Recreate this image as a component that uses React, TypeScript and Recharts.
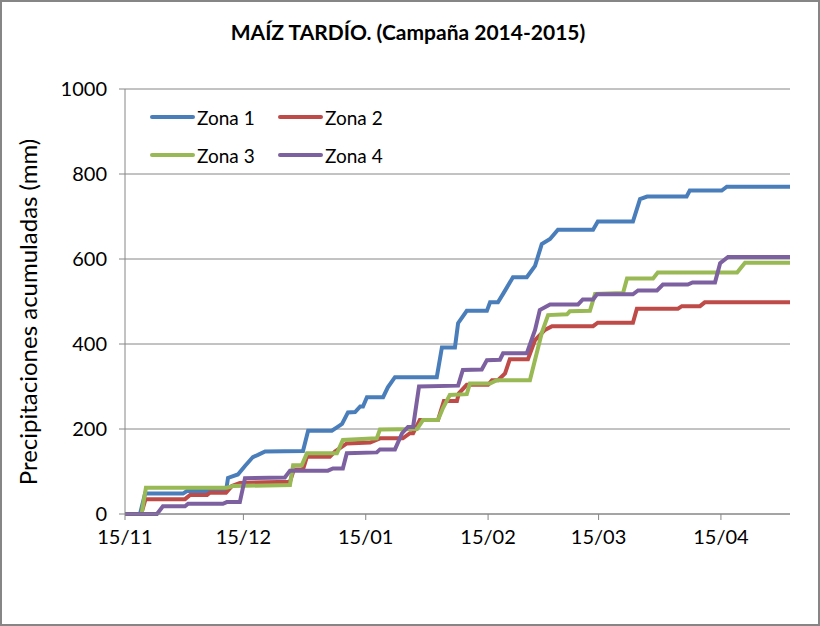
import React from 'react';
import { LineChart, Line, XAxis, YAxis, CartesianGrid, Legend, Label } from 'recharts';

// eje X: días contados desde el 15/11/2014
const tickDias = [0, 30, 61, 92, 120, 151];
const tickEtiquetas = ['15/11', '15/12', '15/01', '15/02', '15/03', '15/04'];
const yTicks = [0, 200, 400, 600, 800, 1000];

const dias1 = [0, 3.8, 5.1, 14.7, 15.7, 25.6, 26.1, 28.6, 30.4, 32.4, 33.7, 35.5, 45.1, 46.4, 52.4, 53.7, 55.0, 56.5, 58.3, 59.6, 60.3, 61.3, 65.4, 66.6, 68.4, 79.0, 80.3, 83.6, 84.4, 86.6, 91.7, 92.5, 94.5, 95.8, 98.3, 101.8, 103.9, 105.6, 107.7, 109.7, 118.6, 119.8, 128.7, 130.5, 132.3, 142.3, 143.1, 151.2, 152.5, 168.5];
const valores1 = [0, 0, 48, 48, 54, 54, 85, 93, 113, 134, 139, 147, 148, 196, 196, 204, 212, 239, 240, 253, 253, 275, 275, 298, 322, 322, 392, 392, 449, 478, 478, 498, 498, 518, 557, 557, 584, 635, 647, 669, 669, 688, 688, 741, 747, 747, 761, 761, 770, 770];

const dias2 = [0, 4.1, 5.2, 15.2, 16.5, 20.8, 21.5, 25.6, 27.1, 29.1, 41.8, 42.8, 45.1, 46.1, 51.9, 53.2, 56.2, 62.1, 64.6, 70.4, 72.2, 73.0, 74.7, 79.3, 80.8, 84.1, 84.6, 86.6, 92.0, 93.0, 94.5, 96.3, 97.5, 102.1, 103.9, 106.4, 108.2, 118.6, 119.8, 128.7, 129.7, 140.1, 141.1, 145.7, 146.9, 168.5];
const valores2 = [0, 0, 35, 35, 45, 45, 50, 50, 66, 73, 76, 105, 105, 135, 135, 147, 166, 168, 178, 178, 190, 190, 221, 221, 266, 266, 284, 304, 304, 315, 315, 331, 364, 364, 409, 433, 442, 442, 450, 450, 483, 483, 489, 489, 498, 498];

const dias3 = [0, 4.2, 5.3, 25.8, 27.4, 41.8, 42.6, 44.8, 46.1, 53.7, 55.2, 63.8, 64.6, 74.0, 75.5, 79.3, 80.6, 82.3, 86.6, 87.4, 92.5, 94.2, 102.6, 105.6, 107.2, 112.0, 112.7, 117.8, 119.1, 126.2, 127.2, 133.8, 135.0, 155.1, 157.1, 168.5];
const valores3 = [0, 0, 62, 62, 66, 68, 115, 115, 143, 143, 174, 178, 199, 200, 221, 221, 250, 280, 282, 307, 307, 315, 315, 426, 468, 470, 477, 478, 518, 520, 554, 554, 568, 568, 591, 591];

const dias4 = [0, 8.1, 9.6, 15.2, 16.0, 24.8, 25.8, 29.1, 30.4, 40.5, 41.8, 51.4, 52.7, 55.2, 56.2, 63.8, 64.6, 68.4, 70.2, 71.7, 73.0, 74.5, 84.4, 85.6, 90.4, 91.7, 95.0, 95.8, 101.8, 103.9, 105.1, 107.7, 114.8, 116.0, 118.6, 119.6, 128.7, 130.0, 134.8, 136.3, 142.6, 143.8, 149.5, 150.8, 152.8, 168.5];
const valores4 = [0, 0, 18, 18, 24, 24, 28, 28, 84, 86, 102, 102, 107, 107, 143, 145, 152, 152, 190, 205, 205, 300, 302, 339, 340, 362, 363, 378, 378, 433, 480, 493, 493, 505, 505, 517, 517, 526, 526, 540, 540, 545, 545, 590, 605, 605];

const toPoints = (dias: number[], valores: number[]) => dias.map((d, i) => ({ d, v: valores[i] }));

const series = [
  { name: 'Zona 1', color: '#4A7EBB', data: toPoints(dias1, valores1) },
  { name: 'Zona 2', color: '#BE4B48', data: toPoints(dias2, valores2) },
  { name: 'Zona 3', color: '#98B954', data: toPoints(dias3, valores3) },
  { name: 'Zona 4', color: '#7D60A0', data: toPoints(dias4, valores4) },
];

const FONT = 'Lato, "Open Sans", sans-serif';
const GRIS = '#868686';

const LegendBox = () => (
  <div style={{ display: 'grid', gridTemplateColumns: '128px 128px', rowGap: 14, fontFamily: FONT, fontSize: 19, color: '#000' }}>
    {series.map((s) => (
      <div key={s.name} style={{ display: 'flex', alignItems: 'center', height: 24 }}>
        <svg width={45} height={6} style={{ marginRight: 2 }}>
          <line x1={2} y1={3} x2={43} y2={3} stroke={s.color} strokeWidth={4} strokeLinecap="round" />
        </svg>
        <span>{s.name}</span>
      </div>
    ))}
  </div>
);

const YLabel = () => (
  <text
    x={27}
    y={312}
    transform="rotate(-90, 27, 312)"
    textAnchor="middle"
    dominantBaseline="central"
    style={{ fontFamily: FONT, fontSize: 24, fill: '#000' }}
  >
    Precipitaciones acumuladas (mm)
  </text>
);

export default function App() {
  return (
    <div style={{ position: 'absolute', left: 0, top: 0, width: 820, height: 626, background: '#fff' }}>
      <div
        style={{
          position: 'absolute',
          top: 19,
          left: 0,
          width: 816,
          textAlign: 'center',
          fontFamily: FONT,
          fontWeight: 700,
          fontSize: 21,
          color: '#000',
        }}
      >
        MAÍZ TARDÍO. (Campaña 2014-2015)
      </div>
      <LineChart width={820} height={626} margin={{ top: 89, right: 30, bottom: 82, left: 0 }}>
        <CartesianGrid vertical={false} stroke={GRIS} yAxisId="left" />
        <XAxis
          type="number"
          dataKey="d"
          domain={[0, 168.5]}
          ticks={tickDias}
          interval={0}
          tickFormatter={(v: number) => tickEtiquetas[tickDias.indexOf(v)]}
          stroke={GRIS}
          tick={{ fill: '#000', fontSize: 20, fontFamily: FONT }}
          tickSize={6}
          tickMargin={10}
          allowDataOverflow
        />
        <YAxis
          yAxisId="left"
          width={125}
          domain={[0, 1000]}
          ticks={yTicks}
          interval={0}
          stroke={GRIS}
          tick={{ fill: '#000', fontSize: 20, fontFamily: FONT }}
          tickSize={6}
          tickMargin={12}
        >
          <Label content={<YLabel />} />
        </YAxis>
        <YAxis yAxisId="right" orientation="right" width={0} domain={[0, 1000]} tick={false} tickLine={false} stroke={GRIS} />
        <Legend
          layout="horizontal"
          verticalAlign="middle"
          align="center"
          content={<LegendBox />}
          wrapperStyle={{ left: 150, top: 105, width: 260 }}
        />
        {series.map((s) => (
          <Line
            key={s.name}
            yAxisId="left"
            data={s.data}
            dataKey="v"
            name={s.name}
            type="linear"
            stroke={s.color}
            strokeWidth={4}
            dot={false}
            activeDot={false}
            isAnimationActive={false}
          />
        ))}
      </LineChart>
      <div
        style={{
          position: 'absolute',
          left: 0,
          top: 0,
          width: 820,
          height: 626,
          boxSizing: 'border-box',
          border: `2px solid ${GRIS}`,
          pointerEvents: 'none',
        }}
      />
    </div>
  );
}
